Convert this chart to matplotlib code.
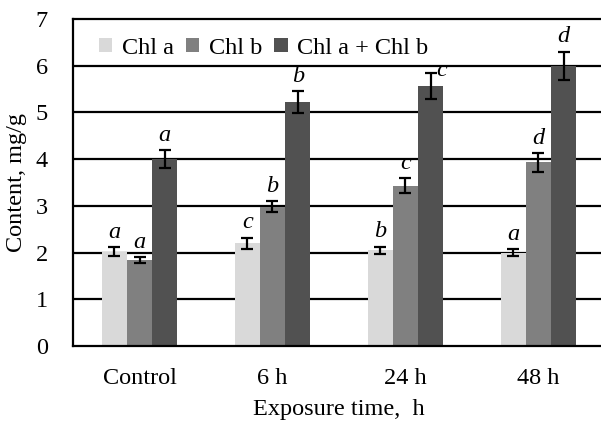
import matplotlib
matplotlib.use("Agg")
import matplotlib.pyplot as plt
import numpy as np

plt.rcParams['font.family'] = ['Liberation Serif', 'DejaVu Serif']

categories = ["Control", "6 h", "24 h", "48 h"]
series_names = ["Chl a", "Chl b", "Chl a + Chl b"]
chl_a = [2.02, 2.20, 2.05, 2.00]
chl_b = [1.84, 2.98, 3.43, 3.93]
chl_ab = [4.00, 5.22, 5.56, 6.00]
err_a = [0.10, 0.12, 0.08, 0.08]
err_b = [0.07, 0.12, 0.16, 0.20]
err_ab = [0.20, 0.23, 0.28, 0.30]
letters_a = ["a", "c", "b", "a"]
letters_b = ["a", "b", "c", "d"]
letters_ab = ["a", "b", "c", "d"]

colors = ["#d9d9d9", "#808080", "#515151"]
fs = 17.5

fig = plt.figure(figsize=(6.01, 4.21), dpi=100)
ax = fig.add_axes([0.1215, 0.178, 0.885, 0.777])

x = np.arange(len(categories))
w = 0.19
offsets = [-w, 0, w]
data = [(chl_a, err_a, letters_a), (chl_b, err_b, letters_b), (chl_ab, err_ab, letters_ab)]

for gy in range(1, 7):
    ax.axhline(gy, color="black", lw=1.6, zorder=0)

for i, (vals, errs, lets) in enumerate(data):
    xs = x + offsets[i]
    ax.bar(xs, vals, width=w, color=colors[i], label=series_names[i], zorder=2)
    ax.errorbar(xs, vals, yerr=errs, fmt="none", ecolor="black", elinewidth=1.6,
                capsize=4, capthick=1.6, zorder=3)
    for j in range(len(xs)):
        dx, dy, ha = 0, 3, "center"
        if i == 2 and j == 2:
            dx, dy, ha = 4, -6, "left"
        ax.annotate(lets[j], (xs[j], vals[j] + errs[j]), xytext=(dx, dy),
                    textcoords="offset points", ha=ha, va="bottom",
                    fontsize=fs, style="italic", zorder=4)

ax.set_xlim(-0.5, 3.5)
ax.set_ylim(0, 7)
ax.set_yticks(range(0, 8))
ax.set_xticks(x)
ax.set_xticklabels(categories)
ax.tick_params(axis="both", length=0, labelsize=fs)
ax.tick_params(axis="y", pad=18)
ax.tick_params(axis="x", pad=16)
for side in ["left", "bottom", "top"]:
    ax.spines[side].set_linewidth(1.6)
ax.spines["right"].set_visible(False)

ax.set_xlabel("Exposure time,  h", fontsize=fs, labelpad=7)
ax.set_ylabel("Content, mg/g", fontsize=fs, labelpad=6)

ax.legend(loc="upper left", bbox_to_anchor=(0.016, 0.995), ncol=3, frameon=False,
          fontsize=fs, handlelength=0.55, handleheight=0.55, handletextpad=0.4,
          columnspacing=0.5, borderaxespad=0.3)

fig.savefig("out.png", dpi=100)
